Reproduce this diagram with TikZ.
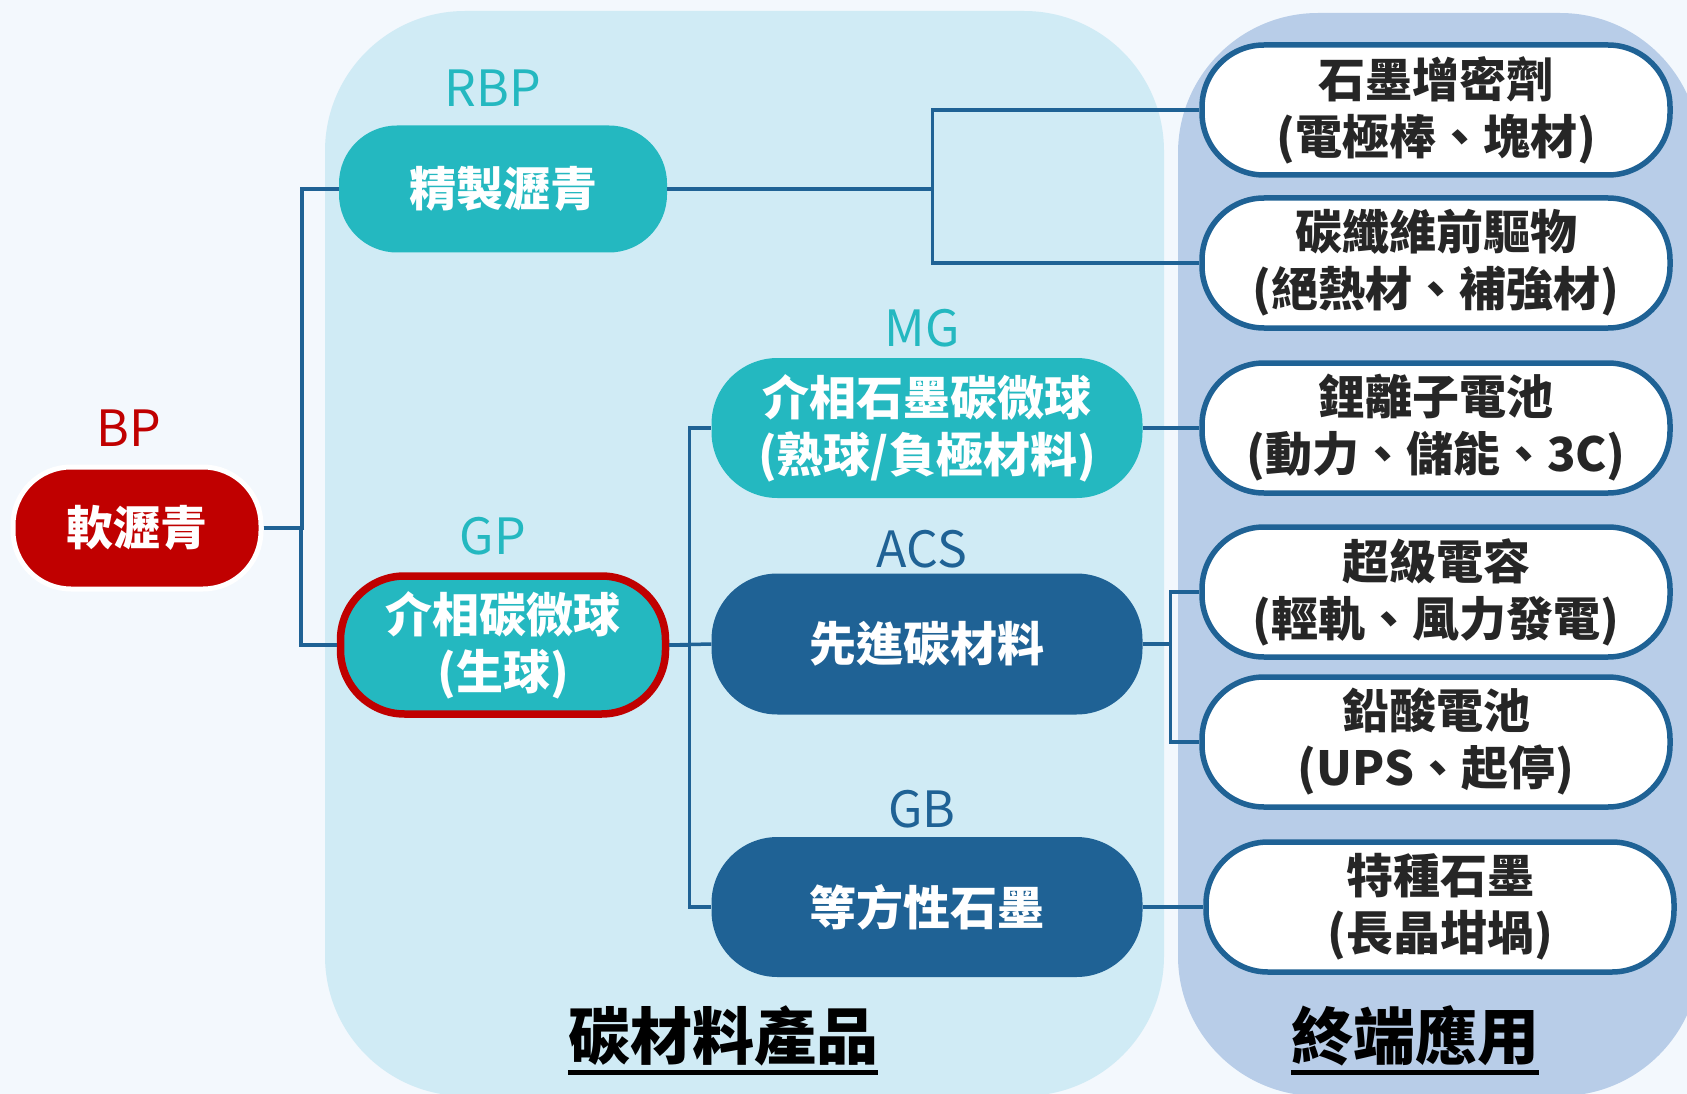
\documentclass[tikz,border=0pt]{standalone}
\usepackage{fontspec}
\setmainfont{Noto Sans CJK TC}
\usetikzlibrary{calc}
\definecolor{bgc}{HTML}{F3F8FD}
\definecolor{panelA}{HTML}{D0EBF5}
\definecolor{panelB}{HTML}{B8CDE8}
\definecolor{tealc}{HTML}{24B8C0}
\definecolor{dblue}{HTML}{1F6295}
\definecolor{redc}{HTML}{C00000}
\definecolor{txtc}{HTML}{262626}
\tikzset{
  box/.style={rectangle, inner sep=0pt, align=center, font=\bfseries\fontsize{47}{57}\selectfont},
  tbox/.style={box, fill=tealc, text=white, rounded corners=58pt},
  bbox/.style={box, fill=dblue, text=white, rounded corners=64pt},
  abox/.style={box, fill=white, draw=dblue, line width=5.5pt, text=txtc, rounded corners=62pt, minimum width=468pt, minimum height=130pt},
  lab/.style={font=\fontsize{50}{56}\selectfont, inner sep=0pt},
  ttl/.style={font=\bfseries\fontsize{62}{70}\selectfont, text=black, inner sep=0pt},
  conn/.style={draw=dblue, line width=3.5pt},
  uline/.style={draw=black, line width=4.5pt}
}
\begin{document}
\begin{tikzpicture}[x=1pt,y=-1pt]
\useasboundingbox (0,0) rectangle (1687,1094);
\fill[bgc] (0,0) rectangle (1687,1094);
% panels
\fill[panelA, rounded corners=140pt] (325,11) rectangle (1164,1096);
\fill[panelB, rounded corners=140pt] (1178,13) rectangle (1700,1096);

% left column
\node[box, fill=redc, text=white, draw=white, line width=5pt, rounded corners=58pt,
      minimum width=248pt, minimum height=122pt] (bp) at (137,528) {軟瀝青};
\node[lab, text=redc] (bpl) at (129,428) {BP};

\node[tbox, minimum width=328pt, minimum height=127pt] (rbp) at (503,189) {精製瀝青};
\node[lab, text=tealc] (rbpl) at (493,88) {RBP};

\node[tbox, draw=redc, line width=7.5pt, minimum width=325pt, minimum height=138pt, rounded corners=64pt] (gp) at (503,645) {介相碳微球\\(生球)};
\node[lab, text=tealc] (gpl) at (493,536) {GP};

% middle column
\node[tbox, minimum width=431pt, minimum height=140pt, rounded corners=66pt] (mg) at (927,428) {介相石墨碳微球\\(熟球/負極材料)};
\node[lab, text=tealc] (mgl) at (922,328) {MG};

\node[bbox, minimum width=431pt, minimum height=141pt, rounded corners=66pt] (acs) at (927,644) {先進碳材料};
\node[lab, text=dblue] (acsl) at (922,549) {ACS};

\node[bbox, minimum width=431pt, minimum height=140pt, rounded corners=66pt] (gb) at (927,907) {等方性石墨};
\node[lab, text=dblue] (gbl) at (922,809) {GB};

% right column
\node[abox] (a1) at (1436,110) {石墨增密劑\\(電極棒、塊材)};
\node[abox] (a2) at (1436,263) {碳纖維前驅物\\(絕熱材、補強材)};
\node[abox] (a3) at (1436,428) {鋰離子電池\\(動力、儲能、3C)};
\node[abox] (a4) at (1436,592) {超級電容\\(輕軌、風力發電)};
\node[abox] (a5) at (1436,742) {鉛酸電池\\(UPS、起停)};
\node[abox] (a6) at (1440,907) {特種石墨\\(長晶坩堝)};

% titles
\node[ttl] (t1) at (723,1036) {碳材料產品};
\node[ttl] (t2) at (1415,1036) {終端應用};
\draw[uline] ([yshift=-6pt]t1.south west) -- ([yshift=-6pt]t1.south east);
\draw[uline] ([yshift=-6pt]t2.south west) -- ([yshift=-6pt]t2.south east);

% connectors
\draw[conn] (bp.east) -| ([xshift=-37pt]rbp.west) -- (rbp.west);
\draw[conn] (bp.east) -| ([xshift=-36pt]gp.west) -- (gp.west);
\draw[conn] (rbp.east) -| ([xshift=-267pt]a1.west) -- (a1.west);
\draw[conn] (rbp.east) -| ([xshift=-267pt]a2.west) -- (a2.west);
\draw[conn] (gp.east) -| ([xshift=-22pt]mg.west) -- (mg.west);
\draw[conn] (gp.east) -- (acs.west);
\draw[conn] (gp.east) -| ([xshift=-22pt]gb.west) -- (gb.west);
\draw[conn] (mg.east) -- (a3.west);
\draw[conn] (acs.east) -| ([xshift=-29pt]a4.west) -- (a4.west);
\draw[conn] (acs.east) -| ([xshift=-29pt]a5.west) -- (a5.west);
\draw[conn] (gb.east) -- (a6.west);
\end{tikzpicture}
\end{document}
